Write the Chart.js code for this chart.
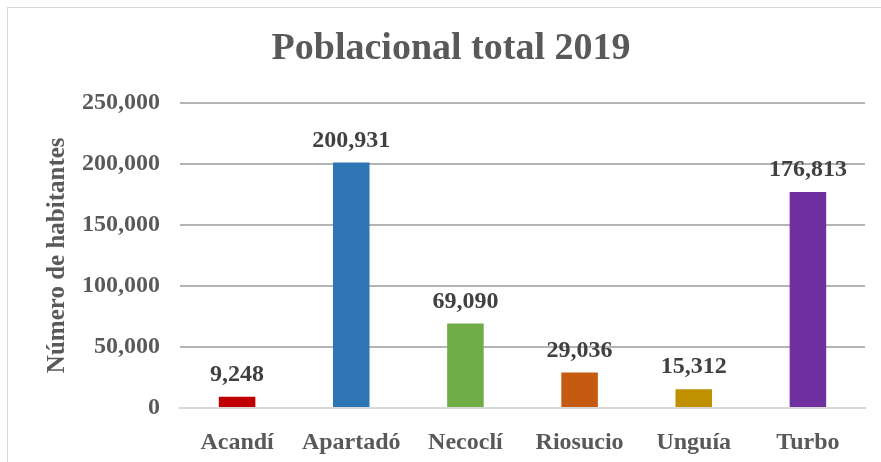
<!DOCTYPE html>
<html>
<head>
<meta charset="utf-8">
<script src="https://cdn.jsdelivr.net/npm/chart.js@4"></script>
<style>
    html, body { margin: 0; padding: 0; background: #fff; overflow: hidden; }
    #wrap { position: relative; width: 881px; height: 462px; }
    #frame { position: absolute; left: 7px; top: 7px; width: 900px; height: 500px; border: 1px solid #d9d9d9; }
    #barChart { position: absolute; left: 0; top: 0; }
</style>
</head>
<body>
<div id="wrap">
    <div id="frame"></div>
    <canvas id="barChart" width="881" height="462"></canvas>
</div>
<script>
// datos
var municipios = ['Acandí', 'Apartadó', 'Necoclí', 'Riosucio', 'Unguía', 'Turbo'];
var habitantes = [9248, 200931, 69090, 29036, 15312, 176813];
var colores = ['#C00000', '#2E75B6', '#70AD47', '#C55A11', '#BF9000', '#7030A0'];
var yTicks = [0, 50000, 100000, 150000, 200000, 250000];

var serif = "'Liberation Serif', 'Times New Roman', serif";

// etiquetas encima de cada barra
var etiquetas = {
    id: 'etiquetas',
    afterDatasetsDraw: function (chart) {
        var ctx = chart.ctx;
        var meta = chart.getDatasetMeta(0);
        ctx.save();
        ctx.font = 'bold 24px ' + serif;
        ctx.fillStyle = '#404040';
        ctx.textAlign = 'center';
        ctx.textBaseline = 'alphabetic';
        meta.data.forEach(function (bar, i) {
            ctx.fillText(habitantes[i].toLocaleString('en-US'), bar.x, bar.y - 16);
        });
        ctx.restore();
    }
};

var ctx = document.getElementById('barChart');
var myBarChart = new Chart(ctx, {
    type: 'bar',
    data: {
        labels: municipios,
        datasets: [{
            label: 'Número de habitantes',
            data: habitantes,
            backgroundColor: colores,
            barPercentage: 0.32,
            categoryPercentage: 1
        }]
    },
    options: {
        responsive: false,
        animation: false,
        devicePixelRatio: 1,
        layout: {
            padding: { left: 37, right: 16, top: 0, bottom: 0 }
        },
        plugins: {
            legend: { display: false },
            tooltip: { enabled: false },
            title: {
                display: true,
                text: 'Poblacional total 2019',
                color: '#595959',
                font: { family: serif, size: 38, weight: 'bold' },
                padding: { top: 26, bottom: 31 }
            }
        },
        scales: {
            x: {
                afterFit: function (scale) { scale.height = 54; },
                grid: { display: false, drawTicks: false },
                border: { color: '#d9d9d9', width: 2 },
                ticks: {
                    color: '#595959',
                    padding: 20,
                    maxRotation: 0,
                    font: { family: serif, size: 24, weight: 'bold' }
                }
            },
            y: {
                min: 0,
                max: 250000,
                afterFit: function (scale) { scale.width = 143; },
                afterBuildTicks: function (scale) {
                    scale.ticks = yTicks.map(function (v) { return { value: v }; });
                },
                border: { display: false },
                grid: {
                    drawTicks: false,
                    lineWidth: 2,
                    color: function (c) { return c.tick && c.tick.value === 0 ? '#d9d9d9' : '#b4b4b4'; }
                },
                ticks: {
                    color: '#595959',
                    padding: 20,
                    font: { family: serif, size: 24, weight: 'bold' },
                    callback: function (v) { return v.toLocaleString('en-US'); }
                },
                title: {
                    display: true,
                    text: 'Número de habitantes',
                    color: '#595959',
                    font: { family: serif, size: 25, weight: 'bold' },
                    padding: { top: 6, bottom: 0 }
                }
            }
        }
    },
    plugins: [etiquetas]
});
</script>
</body>
</html>
